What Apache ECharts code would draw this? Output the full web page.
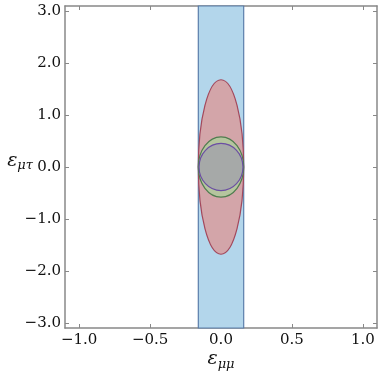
<!DOCTYPE html>
<html><head><meta charset="utf-8">
<script src="https://cdn.jsdelivr.net/npm/echarts@6/dist/echarts.min.js"></script>
<style>html,body{margin:0;padding:0;background:#fff}#c{width:382px;height:384px}</style>
</head><body><div id="c"></div>
<script>
// Data
const xTicks = [-1.0, -0.5, 0.0, 0.5, 1.0];
const yTicks = [-3, -2, -1, 0, 1, 2, 3];
const band = [[-0.16, 0.16]];             // vertical band [x0, x1]
const ellipseRed   = [[0, 0, 0.16, 1.68]]; // [cx, cy, rx, ry]
const ellipseGreen = [[0, 0, 0.16, 0.58]];
const ellipseGray  = [[0, 0, 0.155, 0.455]];

const FONT = 'DejaVu Serif';
const fmt = v => (v < 0 ? '\u2212' : '') + Math.abs(v).toFixed(1);
const axisCol = '#888888';

function ellipseSeries(data, fill, stroke, z) {
  return {
    type: 'custom', data: data, z: z, silent: true,
    renderItem: function (params, api) {
      const c = api.coord([api.value(0), api.value(1)]);
      const s = api.size([api.value(2), api.value(3)]);
      return { type: 'ellipse', shape: { cx: c[0], cy: c[1], rx: s[0], ry: s[1] },
        style: { fill: fill, stroke: stroke, lineWidth: 1.2 } };
    }
  };
}

const chart = echarts.init(document.getElementById('c'));
const baseX = { type: 'value', min: -1.1, max: 1.1, splitLine: { show: false },
  axisLine: { show: true, onZero: false, lineStyle: { color: axisCol, width: 1.5 } } };
const baseY = { type: 'value', min: -3.1, max: 3.1, splitLine: { show: false },
  axisLine: { show: true, onZero: false, lineStyle: { color: axisCol, width: 1.5 } } };
chart.setOption({
  animation: false,
  grid: { left: 65, right: 5, top: 6, bottom: 56, containLabel: false, outerBoundsMode: 'none' },
  xAxis: [
    Object.assign({}, baseX, { position: 'bottom',
      axisTick: { inside: true, length: 4, customValues: xTicks, lineStyle: { color: axisCol } },
      axisLabel: { customValues: xTicks, formatter: fmt, fontFamily: FONT, fontSize: 15, color: '#111', margin: 5 },
      name: '{e|\u03b5}{s|\u03bc\u03bc}', nameLocation: 'middle', nameGap: 20, nameMoveOverlap: false,
      nameTextStyle: { rich: {
        e: { fontFamily: FONT, fontStyle: 'italic', fontSize: 19, color: '#111' },
        s: { fontFamily: FONT, fontStyle: 'italic', fontSize: 13, color: '#111', padding: [10, 0, 0, 0] } } } }),
    Object.assign({}, baseX, { position: 'top',
      axisTick: { inside: true, length: 4, customValues: xTicks, lineStyle: { color: axisCol } },
      axisLabel: { show: false } })
  ],
  yAxis: [
    Object.assign({}, baseY, { position: 'left',
      axisTick: { inside: true, length: 4, customValues: yTicks, lineStyle: { color: axisCol } },
      axisLabel: { customValues: yTicks, formatter: fmt, fontFamily: FONT, fontSize: 15, color: '#111', margin: 4 },
      name: '{e|\u03b5}{s|\u03bc\u03c4}', nameLocation: 'middle', nameGap: 32, nameRotate: 0, nameMoveOverlap: false,
      nameTextStyle: { padding: [0, 0, 12, 0], rich: {
        e: { fontFamily: FONT, fontStyle: 'italic', fontSize: 19, color: '#111' },
        s: { fontFamily: FONT, fontStyle: 'italic', fontSize: 13, color: '#111', padding: [10, 0, 0, 0] } } } }),
    Object.assign({}, baseY, { position: 'right',
      axisTick: { inside: true, length: 4, customValues: yTicks, lineStyle: { color: axisCol } },
      axisLabel: { show: false } })
  ],
  series: [
    { type: 'custom', data: band, z: 1, silent: true,
      renderItem: function (params, api) {
        const p0 = api.coord([api.value(0), 3.1]);
        const p1 = api.coord([api.value(1), -3.1]);
        return { type: 'rect', shape: { x: p0[0], y: p0[1], width: p1[0] - p0[0], height: p1[1] - p0[1] },
          style: { fill: '#b3d6eb', stroke: '#5b7eab', lineWidth: 1.2 } };
      } },
    ellipseSeries(ellipseRed, '#d3a5a9', '#a3485c', 2),
    ellipseSeries(ellipseGreen, '#b5c59e', '#4f7d4f', 3),
    ellipseSeries(ellipseGray, '#a6a9a8', '#6b4ea3', 4)
  ]
});
</script></body></html>
